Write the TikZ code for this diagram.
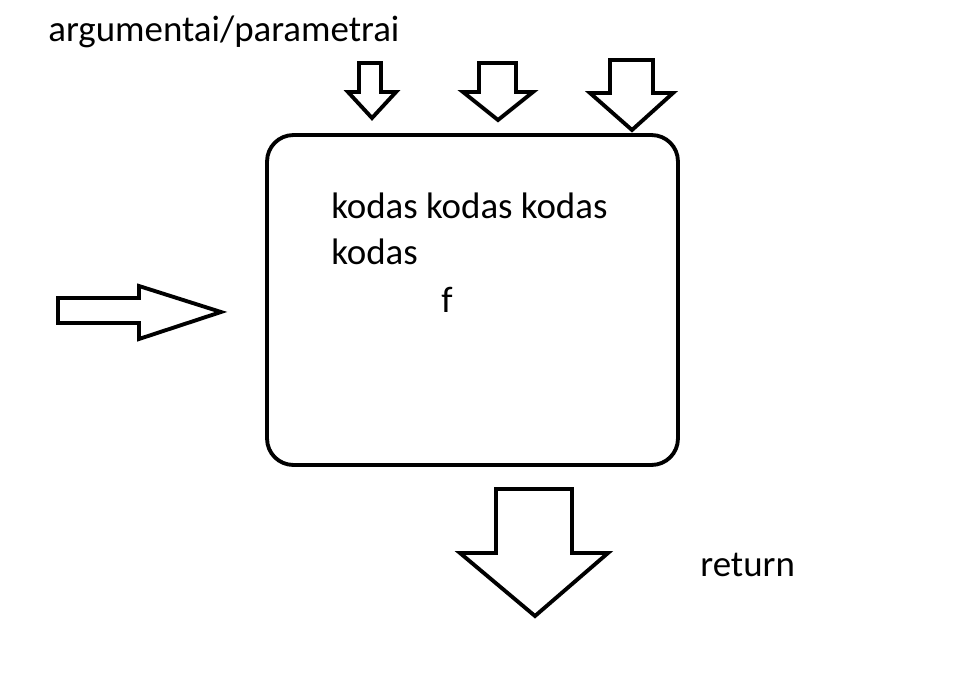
\documentclass[tikz,border=0pt]{standalone}
\usepackage{fontspec}
\setmainfont{Carlito}
\usetikzlibrary{positioning}

\tikzset{
  blockarrow/.style={draw,line width=2.2pt,line join=miter,fill=white},
  label/.style={inner sep=0pt,font=\fontsize{21}{26}\selectfont}
}

\begin{document}
\begin{tikzpicture}[x=0.02cm,y=-0.02cm]

    \useasboundingbox[fill=white] (0,0) rectangle (961,677);

    \node[draw,line width=2.2pt,rounded corners=15pt,minimum width=8.22cm,minimum height=6.6cm](fbox) at (472.5,300){};

    \node[label,anchor=base west](title) at (48,41){argumentai/parametrai};
    \node[label,anchor=base west,align=left](code) at (331,264){kodas kodas kodas\\kodas};
    \node[label,anchor=base](fname) at (447,312){f};
    \node[label,anchor=base west](ret) at (700,576){return};

    % parametrai
    \draw[blockarrow] (359,63) -- (381,63) -- (381,92) -- (396,92) -- (372,118) -- (348,92) -- (359,92) -- cycle;
    \draw[blockarrow] (479,63) -- (516,63) -- (516,92) -- (533,92) -- (498,120) -- (463,92) -- (479,92) -- cycle;
    \draw[blockarrow] (610,60) -- (653,60) -- (653,93) -- (673,93) -- (632,130) -- (590,93) -- (610,93) -- cycle;

    % iejimas
    \draw[blockarrow] (58,298) -- (139,298) -- (139,286) -- (221,312) -- (139,339) -- (139,323) -- (58,323) -- cycle;

    % return
    \draw[blockarrow] (496,489) -- (572,489) -- (572,553) -- (608,553) -- (535,616) -- (460,553) -- (496,553) -- cycle;

\end{tikzpicture}
\end{document}
